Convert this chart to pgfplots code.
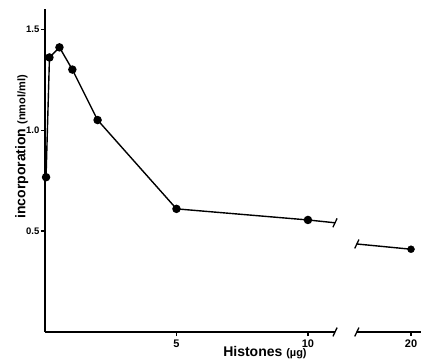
\documentclass[border=0pt]{standalone}
\usepackage{pgfplots}
\pgfplotsset{compat=1.18}
\usepackage{fontspec}
\setmainfont{Liberation Sans}
\begin{document}
\begin{tikzpicture}[x=1pt,y=1pt]
\path[use as bounding box] (-45,-30) rectangle (384,332);
\begin{axis}[
  at={(0,0)}, anchor=south west,
  scale only axis,
  width=376pt, height=323pt,
  xmin=0, xmax=14.3, ymin=0, ymax=1.6,
  clip=false,
  axis lines=left,
  axis line style={-, line width=1.5pt},
  x axis line style={draw=none},
  tick align=outside,
  major tick length=4pt,
  tick style={black, line width=1.2pt},
  xtick={5,10,13.92}, xticklabels={5,10,20},
  ytick={0.5,1,1.5}, yticklabels={0.5,1.0,1.5},
  xticklabel style={font=\fontsize{11}{12}\selectfont\bfseries},
  yticklabel style={font=\fontsize{9.5}{10}\selectfont\bfseries, inner sep=1.5pt},
  xlabel={\fontsize{14}{15}\selectfont\bfseries Histones \fontsize{11}{12}\selectfont(µg)},
  xlabel style={at={(axis description cs:0.585,-0.065)}, anchor=center},
  ylabel={\fontsize{14}{15}\selectfont\bfseries incorporation \fontsize{11}{12}\selectfont(nmol/ml)},
  ylabel style={at={(axis description cs:-0.062,0.573)}, anchor=center, rotate=0},
]
% x axis segments
\addplot[black, line width=1.5pt] coordinates {(0,0) (11.03,0)};
\addplot[black, line width=1.5pt] coordinates {(11.86,0) (14.3,0)};
% break marks on axis
\addplot[black, line width=1.3pt] coordinates {(10.95,-0.022) (11.11,0.022)};
\addplot[black, line width=1.3pt] coordinates {(11.78,-0.022) (11.94,0.022)};
% data, first segment
\addplot[black, line width=1.4pt, mark=*, mark size=3.5pt] coordinates {
  (0.04,0.767) (0.17,1.36) (0.55,1.41) (1.04,1.30) (2.0,1.05) (5,0.61) (10,0.555)
};
\addplot[black, line width=1.4pt] coordinates {(10,0.555) (11.03,0.541)};
\addplot[black, line width=1.3pt] coordinates {(10.95,0.519) (11.11,0.563)};
% data, second segment
\addplot[black, line width=1.4pt] coordinates {(11.86,0.436) (13.92,0.41)};
\addplot[black, line width=1.3pt] coordinates {(11.78,0.414) (11.94,0.458)};
\addplot[black, only marks, mark=*, mark size=3.5pt] coordinates {(13.92,0.41)};
\end{axis}
\end{tikzpicture}
\end{document}
